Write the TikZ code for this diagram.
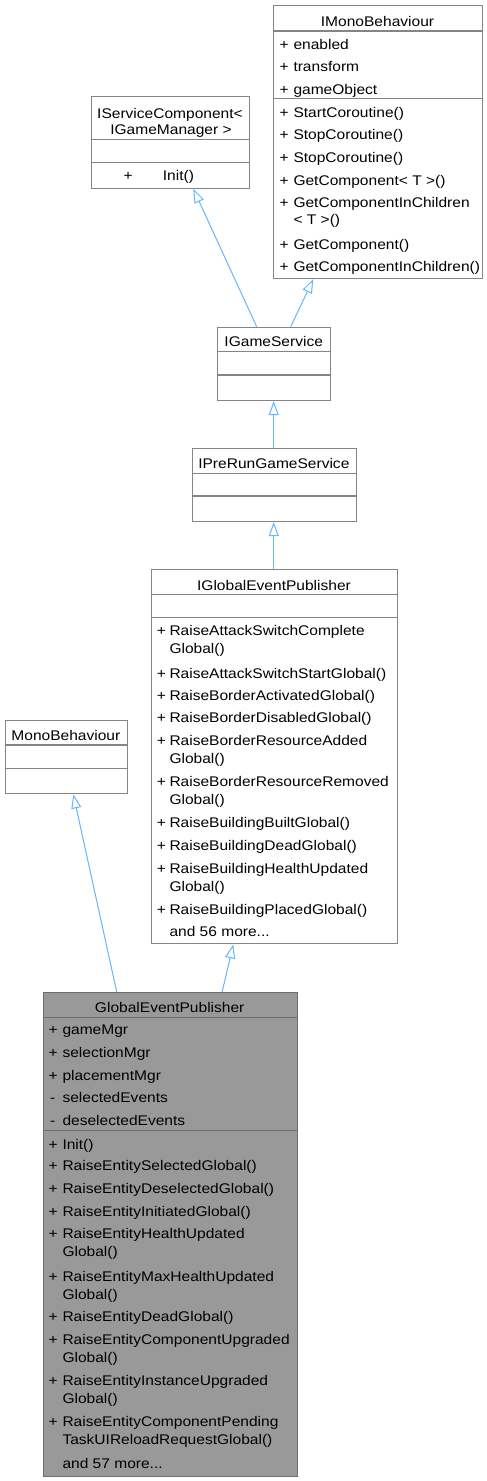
\documentclass[tikz,border=0pt]{standalone}
\usepackage{fontspec}
\setmainfont{Liberation Sans}[FakeStretch=1.11]
\usetikzlibrary{arrows.meta}
\definecolor{boxgray}{HTML}{858585}
\definecolor{gepgray}{HTML}{6E6E6E}
\definecolor{gepfill}{HTML}{999999}
\definecolor{edgeblue}{HTML}{63B8FF}
\newcommand{\dgfont}{\fontsize{14}{16}\selectfont}
\begin{document}
\begin{tikzpicture}[x=1pt,y=-1pt,
  txt/.style={anchor=base west, inner sep=0pt, font=\dgfont},
  ttl/.style={anchor=base, inner sep=0pt, font=\dgfont},
  box/.style={draw=boxgray, line width=1.1pt, fill=white, anchor=north west, inner sep=0pt},
  gbox/.style={draw=gepgray, line width=1.1pt, fill=gepfill, anchor=north west, inner sep=0pt},
  sepline/.style={draw=boxgray, line width=1.1pt},
  gsepline/.style={draw=gepgray, line width=1.1pt},
  inh/.style={draw=edgeblue, line width=1pt, -{Triangle[open, length=14pt, width=10pt]}}
]
\useasboundingbox[fill=white] (0,0) rectangle (487,1481);

% ---------- IMonoBehaviour
\node[box, minimum width=208.4pt, minimum height=273pt] (imono) at (273.3,5) {};
\draw[sepline] ([yshift=-26pt]imono.north west) -- ([yshift=-26pt]imono.north east);
\draw[sepline] ([yshift=-93.7pt]imono.north west) -- ([yshift=-93.7pt]imono.north east);
\node[ttl] (imonot) at (377.5,26.7) {IMonoBehaviour};
\node[txt] (im1p) at (279.3,49) {+};   \node[txt] (im1) at (293.3,49) {enabled};
\node[txt] (im2p) at (279.3,71) {+};   \node[txt] (im2) at (293.3,71) {transform};
\node[txt] (im3p) at (279.3,94) {+};   \node[txt] (im3) at (293.3,94) {gameObject};
\node[txt] (im4p) at (279.3,117.3) {+}; \node[txt] (im4) at (293.3,117.3) {StartCoroutine()};
\node[txt] (im5p) at (279.3,139.3) {+}; \node[txt] (im5) at (293.3,139.3) {StopCoroutine()};
\node[txt] (im6p) at (279.3,162.3) {+}; \node[txt] (im6) at (293.3,162.3) {StopCoroutine()};
\node[txt] (im7p) at (279.3,185) {+};   \node[txt] (im7) at (293.3,185) {GetComponent< T >()};
\node[txt] (im8p) at (279.3,207) {+};   \node[txt] (im8) at (293.3,207) {GetComponentInChildren};
\node[txt] (im8b) at (293.3,224.5) {< T >()};
\node[txt] (im9p) at (279.3,249.3) {+}; \node[txt] (im9) at (293.3,249.3) {GetComponent()};
\node[txt] (im10p) at (279.3,271) {+};  \node[txt] (im10) at (293.3,271) {GetComponentInChildren()};

% ---------- IServiceComponent
\node[box, minimum width=158.6pt, minimum height=92pt] (isc) at (90.7,95.7) {};
\draw[sepline] ([yshift=-43.6pt]isc.north west) -- ([yshift=-43.6pt]isc.north east);
\draw[sepline] ([yshift=-67pt]isc.north west) -- ([yshift=-67pt]isc.north east);
\node[ttl] (isct1) at (170,118.7) {IServiceComponent<};
\node[ttl] (isct2) at (171,134.3) {IGameManager >};
\node[txt] (isc1p) at (123.3,180) {+}; \node[txt] (isc1) at (162.7,180) {Init()};

% ---------- IGameService
\node[box, minimum width=112.7pt, minimum height=73.3pt] (igs) at (217.3,326.7) {};
\draw[sepline] ([yshift=-25pt]igs.north west) -- ([yshift=-25pt]igs.north east);
\draw[sepline] ([yshift=-48.3pt]igs.north west) -- ([yshift=-48.3pt]igs.north east);
\node[ttl] (igst) at (273.7,346.7) {IGameService};

% ---------- IPreRunGameService
\node[box, minimum width=164.3pt, minimum height=73.3pt] (ipr) at (191.7,447.7) {};
\draw[sepline] ([yshift=-25.6pt]ipr.north west) -- ([yshift=-25.6pt]ipr.north east);
\draw[sepline] ([yshift=-48.3pt]ipr.north west) -- ([yshift=-48.3pt]ipr.north east);
\node[ttl] (iprt) at (273.85,468.3) {IPreRunGameService};

% ---------- IGlobalEventPublisher
\node[box, minimum width=246.6pt, minimum height=374pt] (igep) at (150.7,569.3) {};
\draw[sepline] ([yshift=-25pt]igep.north west) -- ([yshift=-25pt]igep.north east);
\draw[sepline] ([yshift=-48pt]igep.north west) -- ([yshift=-48pt]igep.north east);
\node[ttl] (igept) at (274,590) {IGlobalEventPublisher};
\node[txt] (ig1p) at (156.7,635) {+}; \node[txt] (ig1) at (169.3,635) {RaiseAttackSwitchComplete};
\node[txt] (ig1b) at (169.3,653.3) {Global()};
\node[txt] (ig2p) at (156.7,678.3) {+}; \node[txt] (ig2) at (169.3,678.3) {RaiseAttackSwitchStartGlobal()};
\node[txt] (ig3p) at (156.7,700) {+}; \node[txt] (ig3) at (169.3,700) {RaiseBorderActivatedGlobal()};
\node[txt] (ig4p) at (156.7,722.3) {+}; \node[txt] (ig4) at (169.3,722.3) {RaiseBorderDisabledGlobal()};
\node[txt] (ig5p) at (156.7,745) {+}; \node[txt] (ig5) at (169.3,745) {RaiseBorderResourceAdded};
\node[txt] (ig5b) at (169.3,763.3) {Global()};
\node[txt] (ig6p) at (156.7,786) {+}; \node[txt] (ig6) at (169.3,786) {RaiseBorderResourceRemoved};
\node[txt] (ig6b) at (169.3,804.3) {Global()};
\node[txt] (ig7p) at (156.7,827.7) {+}; \node[txt] (ig7) at (169.3,827.7) {RaiseBuildingBuiltGlobal()};
\node[txt] (ig8p) at (156.7,850) {+}; \node[txt] (ig8) at (169.3,850) {RaiseBuildingDeadGlobal()};
\node[txt] (ig9p) at (156.7,873.3) {+}; \node[txt] (ig9) at (169.3,873.3) {RaiseBuildingHealthUpdated};
\node[txt] (ig9b) at (169.3,891.7) {Global()};
\node[txt] (ig10p) at (156.7,914.3) {+}; \node[txt] (ig10) at (169.3,914.3) {RaiseBuildingPlacedGlobal()};
\node[txt] (ig11) at (169.3,936.7) {and 56 more...};

% ---------- MonoBehaviour
\node[box, minimum width=121.7pt, minimum height=73.3pt] (mb) at (5,720) {};
\draw[sepline] ([yshift=-25pt]mb.north west) -- ([yshift=-25pt]mb.north east);
\draw[sepline] ([yshift=-48.3pt]mb.north west) -- ([yshift=-48.3pt]mb.north east);
\node[ttl] (mbt) at (65.85,740.7) {MonoBehaviour};

% ---------- GlobalEventPublisher
\node[gbox, minimum width=254pt, minimum height=484pt] (gep) at (42.7,991.7) {};
\draw[gsepline] ([yshift=-25.6pt]gep.north west) -- ([yshift=-25.6pt]gep.north east);
\draw[gsepline] ([yshift=-139pt]gep.north west) -- ([yshift=-139pt]gep.north east);
\node[ttl] (gept) at (169.7,1012.3) {GlobalEventPublisher};
\node[txt] (g1p) at (48.3,1034) {+}; \node[txt] (g1) at (62.3,1034) {gameMgr};
\node[txt] (g2p) at (48.3,1057.3) {+}; \node[txt] (g2) at (62.3,1057.3) {selectionMgr};
\node[txt] (g3p) at (48.3,1080) {+}; \node[txt] (g3) at (62.3,1080) {placementMgr};
\node[txt] (g4p) at (50,1102.7) {-}; \node[txt] (g4) at (62.3,1102.7) {selectedEvents};
\node[txt] (g5p) at (50,1125.7) {-}; \node[txt] (g5) at (62.3,1125.7) {deselectedEvents};
\node[txt] (g6p) at (48.3,1149) {+}; \node[txt] (g6) at (62.3,1149) {Init()};
\node[txt] (g7p) at (48.3,1170.7) {+}; \node[txt] (g7) at (62.3,1170.7) {RaiseEntitySelectedGlobal()};
\node[txt] (g8p) at (48.3,1193.3) {+}; \node[txt] (g8) at (62.3,1193.3) {RaiseEntityDeselectedGlobal()};
\node[txt] (g9p) at (48.3,1216) {+}; \node[txt] (g9) at (62.3,1216) {RaiseEntityInitiatedGlobal()};
\node[txt] (g10p) at (48.3,1238.7) {+}; \node[txt] (g10) at (62.3,1238.7) {RaiseEntityHealthUpdated};
\node[txt] (g10b) at (62.3,1256.7) {Global()};
\node[txt] (g11p) at (48.3,1281) {+}; \node[txt] (g11) at (62.3,1281) {RaiseEntityMaxHealthUpdated};
\node[txt] (g11b) at (62.3,1299) {Global()};
\node[txt] (g12p) at (48.3,1321.7) {+}; \node[txt] (g12) at (62.3,1321.7) {RaiseEntityDeadGlobal()};
\node[txt] (g13p) at (48.3,1344.3) {+}; \node[txt] (g13) at (62.3,1344.3) {RaiseEntityComponentUpgraded};
\node[txt] (g13b) at (62.3,1362.7) {Global()};
\node[txt] (g14p) at (48.3,1385) {+}; \node[txt] (g14) at (62.3,1385) {RaiseEntityInstanceUpgraded};
\node[txt] (g14b) at (62.3,1403.3) {Global()};
\node[txt] (g15p) at (48.3,1426.7) {+}; \node[txt] (g15) at (62.3,1426.7) {RaiseEntityComponentPending};
\node[txt] (g15b) at (62.3,1444.3) {TaskUIReloadRequestGlobal()};
\node[txt] (g16) at (62.3,1468.3) {and 57 more...};

% ---------- inheritance edges
\draw[inh] ([xshift=74pt]gep.north west) -- ([xshift=68.3pt]mb.south west);
\draw[inh] ([xshift=179.5pt]gep.north west) -- ([xshift=82.6pt]igep.south west);
\draw[inh] ([xshift=123pt]igep.north west) -- ([xshift=82pt]ipr.south west);
\draw[inh] ([xshift=82pt]ipr.north west) -- ([xshift=56.4pt]igs.south west);
\draw[inh] ([xshift=39.4pt]igs.north west) -- ([xshift=102.6pt]isc.south west);
\draw[inh] ([xshift=73.4pt]igs.north west) -- ([xshift=40pt]imono.south west);
\end{tikzpicture}
\end{document}
